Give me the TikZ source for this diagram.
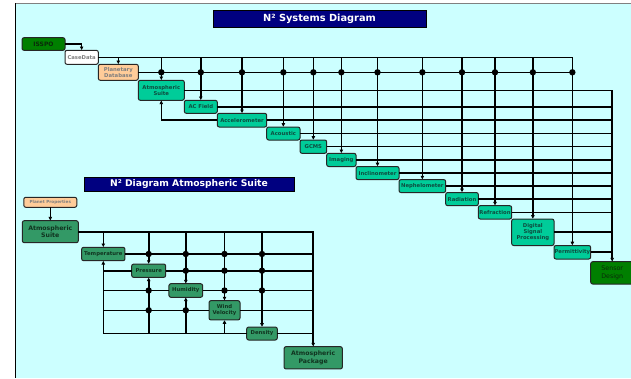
\documentclass[tikz,border=0pt]{standalone}
\usepackage{fontspec}
\setmainfont{DejaVu Sans}
\usetikzlibrary{positioning, calc, arrows.meta}
\tikzset{>={Latex[length=3.8pt, width=4pt]}}
\definecolor{panel}{HTML}{CCFFFF}
\definecolor{navy}{HTML}{000080}
\definecolor{teal1}{HTML}{00CC99}
\definecolor{tealtxt}{HTML}{0E4D40}
\definecolor{atmgreen}{HTML}{339966}
\definecolor{atmtxt}{HTML}{10331F}
\definecolor{darkg}{HTML}{007F00}
\definecolor{darkgtxt}{HTML}{0A2A0A}
\definecolor{peach}{HTML}{FFCC99}
\definecolor{greytxt}{HTML}{7F7F7F}

\begin{document}
\begin{tikzpicture}
    [x=1pt, y=-1pt, line width=1.6pt,
      box/.style={draw=black!85, line width=1pt, rounded corners=2pt,
        inner sep=0pt, outer sep=0pt, align=center,
        font=\bfseries\fontsize{5.3}{6.3}\selectfont},
      sz/.style 2 args={minimum width=#1pt, minimum height=#2pt},
      tool/.style={box, fill=teal1, text=tealtxt},
      atmo/.style={box, fill=atmgreen, text=atmtxt},
      big/.style={font=\bfseries\fontsize{6.2}{7.4}\selectfont},
      title/.style={draw=black, line width=0.6pt, fill=navy, text=white,
        inner sep=0pt, font=\bfseries\fontsize{9.8}{11}\selectfont}]

    \useasboundingbox (0,0) rectangle (631,378);
    \fill[panel] (15,3) rectangle (631,378);
    \draw[gray, line width=0.8pt] (15,3) -- (631,3);
    \draw[line width=0.8pt] (15,3) -- (15,378);

    % titles
    \node[title, sz={213}{17}] (t1) at (319.5,18.5) {N² Systems Diagram};
    \node[title, sz={210}{14}, font=\bfseries\fontsize{9.2}{11}\selectfont]
    (t2) at (189,184) {N² Diagram Atmospheric Suite};

    % systems diagram
    \node[box, fill=darkg, text=darkgtxt, sz={43}{12.6}, anchor=north west,
      font=\bfseries\fontsize{6}{7}\selectfont] (isspo) at (22,37.7) {ISSPO};
    \node[box, fill=white, text=greytxt, sz={33.3}{14},
      below right=0pt and 0pt of isspo] (cd) {CaseData};
    \node[box, fill=peach, text=greytxt, sz={40}{16},
      below right=0pt and 0pt of cd] (pdb) {Planetary\\Database};
    \node[tool, sz={46}{20}, below right=0pt and 0pt of pdb] (atm) {Atmospheric\\Suite};
    \node[tool, sz={33}{13}, below right=0pt and 0pt of atm] (acf) {AC Field};
    \node[tool, sz={49.4}{13.7}, below right=0pt and 0pt of acf] (acc) {Accelerometer};
    \node[tool, sz={33.3}{13}, below right=0pt and 0pt of acc] (aco) {Acoustic};
    \node[tool, sz={26.7}{13.3}, below right=0pt and 0pt of aco] (gcms) {GCMS};
    \node[tool, sz={29.3}{13.2}, below right=0pt and 0pt of gcms] (img) {Imaging};
    \node[tool, sz={43}{13.1}, below right=0pt and 0pt of img] (inc) {Inclinometer};
    \node[tool, sz={46.7}{12.9}, below right=0pt and 0pt of inc] (nep) {Nephelometer};
    \node[tool, sz={32.6}{13.2}, below right=0pt and 0pt of nep] (rad) {Radiation};
    \node[tool, sz={33.4}{13.3}, below right=0pt and 0pt of rad] (ref) {Refraction};
    \node[tool, sz={42.3}{26.5}, below right=0pt and 0pt of ref] (dsp) {Digital\\Signal\\Processing};
    \node[tool, sz={36.7}{13.5}, below right=0pt and 0pt of dsp] (perm) {Permittivity};
    \node[box, fill=darkg, text=darkgtxt, sz={43}{22.3},
      font=\fontsize{6.3}{7.6}\selectfont,
      below right=2.7pt and 0pt of perm] (sd) {Sensor\\Design};

    \draw[->] (isspo) -| (cd);
    \draw[->] (cd) -| (perm);
    \foreach \n in {pdb, atm, acf, acc, aco, gcms, img, inc, nep, rad, ref, dsp}
      \draw[->] (cd.east -| \n.north) -- (\n.north);
    \draw (pdb.east) -- (pdb.east -| perm.north);
    \foreach \n in {atm, acf, acc, aco, gcms, img, inc, nep, rad, ref, dsp, perm}
      \fill (pdb.east -| \n.north) circle (3.2pt);
    \draw[->] (atm) -| (sd);
    \foreach \n in {acf, acc, aco, gcms, img, inc, nep, rad, ref, dsp, perm}
      \draw (\n.east) -- (\n.east -| sd.north);
    \draw[->] (acc) -| (atm);

    % atmospheric suite diagram
    \node[atmo, big, sz={56}{22}] (suite) at (50.3,231.7) {Atmospheric\\Suite};
    \node[box, fill=peach, text=greytxt, sz={53}{10}, above=13.4pt of suite,
      font=\bfseries\fontsize{4.2}{5}\selectfont] (planet) {Planet Properties};
    \node[atmo, sz={43.3}{13.4}] (tmp) at (103.3,254) {Temperature};
    \node[atmo, sz={34}{13.3}] (prs) at (148.7,270.7) {Pressure};
    \node[atmo, sz={33.7}{13.6}] (hum) at (185.8,290.5) {Humidity};
    \node[atmo, sz={31}{19.3}] (wnd) at (224.5,310.3) {Wind\\Velocity};
    \node[atmo, sz={30.6}{13}] (den) at (262,333.5) {Density};
    \node[atmo, big, sz={58.3}{22.3}] (pkg) at (313.2,357.8) {Atmospheric\\Package};

    \draw[->] (planet) -- (suite);
    \draw[->] (suite) -| (pkg);
    \foreach \n in {tmp, prs, hum, wnd, den}
      \draw[->] (suite.east -| \n.north) -- (\n.north);
    \foreach \n in {tmp, prs, hum, wnd, den}
      \draw (\n.east) -- (\n.east -| pkg.north);
    \foreach \n in {prs, hum, wnd, den}
      \draw (\n.west) -- (\n.west -| tmp.south);
    \foreach \n in {tmp, prs, hum, wnd}
      \draw[->] (den.west -| \n.south) -- (\n.south);
    \foreach \r/\c in {tmp/prs, tmp/hum, tmp/wnd, tmp/den, prs/hum, prs/wnd,
      prs/den, hum/prs, hum/wnd, hum/den, wnd/prs, wnd/hum}
      \fill (\r.east -| \c.north) circle (3.2pt);
  \end{tikzpicture}
\end{document}
